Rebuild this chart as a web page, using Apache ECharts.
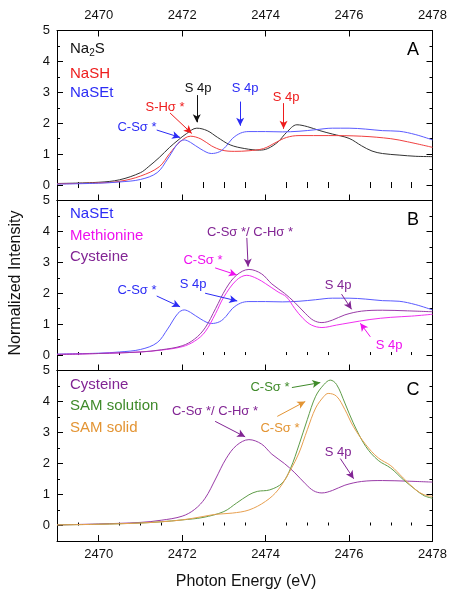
<!DOCTYPE html>
<html><head><meta charset="utf-8">
<script src="https://cdn.jsdelivr.net/npm/echarts@6/dist/echarts.min.js"></script>
<style>html,body{margin:0;padding:0;background:#fff}#c{width:456px;height:601px}</style>
</head><body><div id="c"></div>
<script>
// ---------- tick labels ----------
const xTickLabels = [2470, 2472, 2474, 2476, 2478];
const xMinorTicks = [2469.5, 2470.5, 2471, 2471.5, 2472.5, 2473, 2473.5, 2474.5, 2475, 2475.5, 2476.5, 2477, 2477.5];
const yTickLabels = [0, 1, 2, 3, 4, 5];
const yMinorTicks = [-0.5, 0.5, 1.5, 2.5, 3.5, 4.5];

// ---------- Panel A ----------
const na2sE = [2469, 2470, 2470.5, 2471, 2471.2, 2471.45, 2471.7, 2471.9, 2472.1, 2472.35, 2472.6, 2472.85, 2473.15, 2473.5, 2473.85, 2474.05, 2474.3, 2474.5, 2474.75, 2475, 2475.3, 2475.6, 2476, 2476.3, 2476.55, 2476.8, 2477.2, 2477.6, 2478];
const na2sI = [0.05, 0.09, 0.17, 0.4, 0.6, 0.89, 1.22, 1.45, 1.66, 1.84, 1.76, 1.54, 1.3, 1.18, 1.13, 1.18, 1.4, 1.7, 1.95, 1.89, 1.76, 1.65, 1.51, 1.27, 1.1, 1.02, 0.97, 0.93, 0.92];
const nashE = [2469, 2470, 2470.5, 2471, 2471.45, 2471.7, 2471.95, 2472.2, 2472.45, 2472.7, 2472.95, 2473.25, 2473.6, 2473.95, 2474.25, 2474.5, 2474.8, 2475.5, 2476.3, 2477, 2477.4, 2478];
const nashI = [0.04, 0.07, 0.12, 0.29, 0.59, 1.02, 1.4, 1.58, 1.49, 1.27, 1.13, 1.09, 1.11, 1.18, 1.38, 1.54, 1.6, 1.6, 1.58, 1.5, 1.4, 1.22];
const nasetE = [2469, 2470, 2470.5, 2471, 2471.4, 2471.65, 2471.9, 2472.05, 2472.2, 2472.45, 2472.7, 2472.9, 2473.05, 2473.2, 2473.4, 2473.6, 2474, 2474.4, 2474.8, 2475.2, 2475.6, 2476, 2476.4, 2476.8, 2477.2, 2477.6, 2478];
const nasetI = [0.03, 0.06, 0.1, 0.18, 0.4, 0.84, 1.35, 1.46, 1.38, 1.16, 1.02, 1.08, 1.25, 1.5, 1.68, 1.73, 1.73, 1.72, 1.74, 1.79, 1.84, 1.84, 1.81, 1.76, 1.74, 1.63, 1.46];

// ---------- Panel B ----------
const methE = [2469, 2470, 2471, 2471.5, 2472, 2472.3, 2472.55, 2472.8, 2473.0, 2473.3, 2473.55, 2473.8, 2474.0, 2474.3, 2474.5, 2474.7, 2474.9, 2475.1, 2475.35, 2475.7, 2476.0, 2476.5, 2477.0, 2477.5, 2478];
const methI = [0.02, 0.05, 0.1, 0.16, 0.27, 0.45, 0.75, 1.34, 1.88, 2.42, 2.58, 2.47, 2.31, 2.04, 1.88, 1.5, 1.18, 0.97, 0.89, 0.97, 1.04, 1.15, 1.22, 1.26, 1.32];
const cysE = [2469, 2470, 2471, 2471.5, 2472, 2472.3, 2472.55, 2472.8, 2473.05, 2473.3, 2473.6, 2473.9, 2474.15, 2474.45, 2474.7, 2474.95, 2475.15, 2475.35, 2475.6, 2475.9, 2476.3, 2476.8, 2477.4, 2478];
const cysI = [0.02, 0.05, 0.1, 0.17, 0.3, 0.52, 0.88, 1.5, 2.15, 2.58, 2.77, 2.63, 2.3, 2.0, 1.7, 1.35, 1.12, 1.05, 1.13, 1.3, 1.42, 1.45, 1.43, 1.4];

// ---------- Panel C ----------
const samSolE = [2469, 2470, 2471, 2471.5, 2472, 2472.5, 2473, 2473.3, 2473.6, 2473.8, 2474.1, 2474.4, 2474.6, 2474.8, 2475, 2475.2, 2475.4, 2475.55, 2475.7, 2475.9, 2476.1, 2476.4, 2476.7, 2477, 2477.3, 2477.6, 2477.8, 2478];
const samSolI = [0.02, 0.04, 0.08, 0.12, 0.18, 0.26, 0.45, 0.72, 0.99, 1.1, 1.15, 1.37, 1.85, 2.6, 3.42, 4.17, 4.55, 4.69, 4.55, 3.95, 3.31, 2.55, 2.1, 1.85, 1.48, 1.15, 0.96, 0.88];
const samSolidE = [2469, 2470, 2471, 2471.5, 2472, 2472.5, 2472.8, 2473.2, 2473.6, 2474, 2474.3, 2474.6, 2474.8, 2475, 2475.2, 2475.4, 2475.5, 2475.7, 2475.9, 2476.1, 2476.4, 2476.7, 2477, 2477.3, 2477.6, 2477.8, 2478];
const samSolidI = [0.02, 0.04, 0.08, 0.12, 0.18, 0.29, 0.36, 0.4, 0.5, 0.78, 1.15, 1.8, 2.34, 3.09, 3.79, 4.17, 4.26, 4.17, 3.74, 3.2, 2.61, 2.18, 1.93, 1.53, 1.15, 0.99, 0.94];

// ---------- styling ----------
const FONT = '"Liberation Sans", Arial, sans-serif';
const C = {black:'#111111', red:'#ee1c1c', blue:'#2b2bf5', magenta:'#ee10ee', purple:'#822594', green:'#3f8a2a', orange:'#e39433'};
const LINE = {black:'#333333', red:'#f04040', blue:'#5a5aff', magenta:'#f030f0', purple:'#9a3ca8', green:'#5e9c48', orange:'#e8a050'};

const grids = [
  {left:57, right:23.5, top:30.5, height:170},
  {left:57, right:23.5, top:200.5, height:170},
  {left:57, right:23.5, top:370.5, height:170.5}
];

const plain = v => String(v);
const xAxis = [], yAxis = [];
function addPanelAxes(gi, bottomLabels, topLabels) {
  const major = xAxis.length;
  xAxis.push({gridIndex:gi, type:'value', min:2469, max:2478, position:'bottom',
    axisLine:{show:true, onZero:false, lineStyle:{color:'#000', width:1}},
    axisTick:{show:true, inside:true, length:6, customValues:xTickLabels, lineStyle:{color:'#000'}},
    axisLabel:{show:bottomLabels, customValues:xTickLabels, formatter:plain, margin:7, fontSize:13, color:'#111', fontFamily:FONT},
    splitLine:{show:false}});
  xAxis.push({gridIndex:gi, type:'value', min:2469, max:2478, position:'bottom',
    axisLine:{show:false},
    axisTick:{show:true, inside:true, length:3, customValues:xMinorTicks, lineStyle:{color:'#000'}},
    axisLabel:{show:false}, splitLine:{show:false}});
  xAxis.push({gridIndex:gi, type:'value', min:2469, max:2478, position:'top',
    axisLine:{show:true, onZero:false, lineStyle:{color:'#000', width:1}},
    axisTick:{show:topLabels, inside:true, length:6, customValues:xTickLabels, lineStyle:{color:'#000'}},
    axisLabel:{show:topLabels, customValues:xTickLabels, formatter:plain, margin:9, fontSize:13, color:'#111', fontFamily:FONT},
    splitLine:{show:false}});
  if (topLabels) {
    xAxis.push({gridIndex:gi, type:'value', min:2469, max:2478, position:'top',
      axisLine:{show:false},
      axisTick:{show:true, inside:true, length:3, customValues:xMinorTicks, lineStyle:{color:'#000'}},
      axisLabel:{show:false}, splitLine:{show:false}});
  }
  const ymajor = yAxis.length;
  ['left','right'].forEach(pos => {
    yAxis.push({gridIndex:gi, type:'value', min:-0.5, max:5, position:pos,
      axisLine:{show:true, onZero:false, lineStyle:{color:'#000', width:1}},
      axisTick:{show:true, inside:true, length:6, customValues:yTickLabels, lineStyle:{color:'#000'}},
      axisLabel:{show:pos==='left', customValues:yTickLabels, formatter:plain, margin:7, fontSize:13, color:'#111', fontFamily:FONT},
      splitLine:{show:false}});
    yAxis.push({gridIndex:gi, type:'value', min:-0.5, max:5, position:pos,
      axisLine:{show:false},
      axisTick:{show:true, inside:true, length:3, customValues:yMinorTicks, lineStyle:{color:'#000'}},
      axisLabel:{show:false}, splitLine:{show:false}});
  });
  return {x:major, y:ymajor};
}
const axA = addPanelAxes(0, false, true);
const axB = addPanelAxes(1, false, false);
const axC = addPanelAxes(2, true, false);

function zip(e, v) { return e.map((x, i) => [x, v[i]]); }

function arrow(p1, p2, color) {
  return [{coord:p1, lineStyle:{color:color, width:1, type:'solid'}, symbol:'none'}, {coord:p2, symbol:'arrow'}];
}
function mk(arrows) {
  return {silent:true, animation:false, symbol:['none','arrow'], symbolSize:[6,8], label:{show:false},
    lineStyle:{width:1, type:'solid'}, emphasis:{disabled:true}, data:arrows};
}

function line(name, ax, e, v, color, extra) {
  return Object.assign({name:name, type:'line', xAxisIndex:ax.x, yAxisIndex:ax.y, data:zip(e, v),
    showSymbol:false, smooth:0.35, lineStyle:{color:color, width:1}, itemStyle:{color:color},
    silent:true, animation:false, z:3}, extra || {});
}

const series = [
  line('Na2S', axA, na2sE, na2sI, LINE.black, {markLine: mk([
    arrow([2472.35, 2.91], [2472.35, 2.03], C.black),
    arrow([2473.39, 2.70], [2473.39, 1.92], C.blue),
    arrow([2474.43, 2.65], [2474.43, 1.82], C.red),
    arrow([2471.71, 2.33], [2472.23, 1.67], C.red),
    arrow([2471.39, 1.78], [2471.95, 1.54], C.blue)
  ])}),
  line('NaSH', axA, nashE, nashI, LINE.red),
  line('NaSEt', axA, nasetE, nasetI, LINE.blue),
  line('NaSEt B', axB, nasetE, nasetI, LINE.blue, {markLine: mk([
    arrow([2473.55, 3.79], [2473.58, 2.86], C.purple),
    arrow([2472.79, 2.82], [2473.31, 2.59], C.magenta),
    arrow([2471.39, 1.91], [2471.95, 1.56], C.blue),
    arrow([2472.55, 2.00], [2473.32, 1.75], C.blue),
    arrow([2475.82, 1.97], [2476.06, 1.48], C.purple),
    arrow([2476.51, 0.59], [2476.27, 1.03], C.magenta)
  ])}),
  line('Methionine', axB, methE, methI, LINE.magenta),
  line('Cysteine', axB, cysE, cysI, LINE.purple),
  line('Cysteine C', axC, cysE, cysI, LINE.purple, {markLine: mk([
    arrow([2472.79, 3.36], [2473.51, 2.86], C.purple),
    arrow([2474.63, 4.45], [2475.31, 4.61], C.green),
    arrow([2474.28, 3.52], [2474.95, 4.00], C.orange),
    arrow([2475.79, 2.16], [2476.11, 1.51], C.purple)
  ])}),
  line('SAM solution', axC, samSolE, samSolI, LINE.green),
  line('SAM solid', axC, samSolidE, samSolidI, LINE.orange)
];

function txt(s, x, y, color, size, align) {
  return {type:'text', x:x, y:y, silent:true, z:10,
    style:{text:s, fill:color, font:(size||13) + 'px ' + FONT, textAlign:align||'center', textVerticalAlign:'middle'}};
}
const graphic = [
  // Panel A legend
  {type:'text', x:70, y:49, silent:true, z:10,
   style:{text:'Na{s|2}S', fill:C.black, font:'15px ' + FONT, textAlign:'left', textVerticalAlign:'middle',
     rich:{s:{fontSize:10, fontFamily:FONT, fill:C.black, padding:[9,0,0,0]}}}},
  txt('NaSH', 70, 74, C.red, 15, 'left'),
  txt('NaSEt', 70, 93, C.blue, 15, 'left'),
  txt('A', 413, 50, '#000', 18),
  txt('S 4p', 198, 88, C.black),
  txt('S 4p', 245, 88, C.blue),
  txt('S 4p', 286, 97, C.red),
  txt('S-H\u03c3 *', 165, 107, C.red),
  txt('C-S\u03c3 *', 137, 127, C.blue),
  // Panel B
  txt('NaSEt', 70, 214, C.blue, 15, 'left'),
  txt('Methionine', 70, 236, C.magenta, 15, 'left'),
  txt('Cysteine', 70, 257, C.purple, 15, 'left'),
  txt('B', 413, 220, '#000', 18),
  txt('C-S\u03c3 */ C-H\u03c3 *', 250, 232, C.purple),
  txt('C-S\u03c3 *', 203, 260, C.magenta),
  txt('C-S\u03c3 *', 137, 290, C.blue),
  txt('S 4p', 193, 284, C.blue),
  txt('S 4p', 338, 285, C.purple),
  txt('S 4p', 389, 345, C.magenta),
  // Panel C
  txt('Cysteine', 70, 385, C.purple, 15, 'left'),
  txt('SAM solution', 70, 406, C.green, 15, 'left'),
  txt('SAM solid', 70, 428, C.orange, 15, 'left'),
  txt('C', 413, 390, '#000', 18),
  txt('C-S\u03c3 */ C-H\u03c3 *', 215, 411, C.purple),
  txt('C-S\u03c3 *', 270, 387, C.green),
  txt('C-S\u03c3 *', 280, 428, C.orange),
  txt('S 4p', 338, 452, C.purple),
  // axis titles
  txt('Photon Energy (eV)', 246, 582, '#111', 16),
  {type:'text', x:16, y:283, rotation:Math.PI/2, silent:true, z:10,
   style:{text:'Normalized Intensity', fill:'#111', font:'16px ' + FONT, textAlign:'center', textVerticalAlign:'middle'}}
];

const chart = echarts.init(document.getElementById('c'), null, {renderer:'canvas'});
chart.setOption({
  animation:false,
  backgroundColor:'#fff',
  grid:grids,
  xAxis:xAxis,
  yAxis:yAxis,
  series:series,
  graphic:graphic
});
</script>
</body></html>
